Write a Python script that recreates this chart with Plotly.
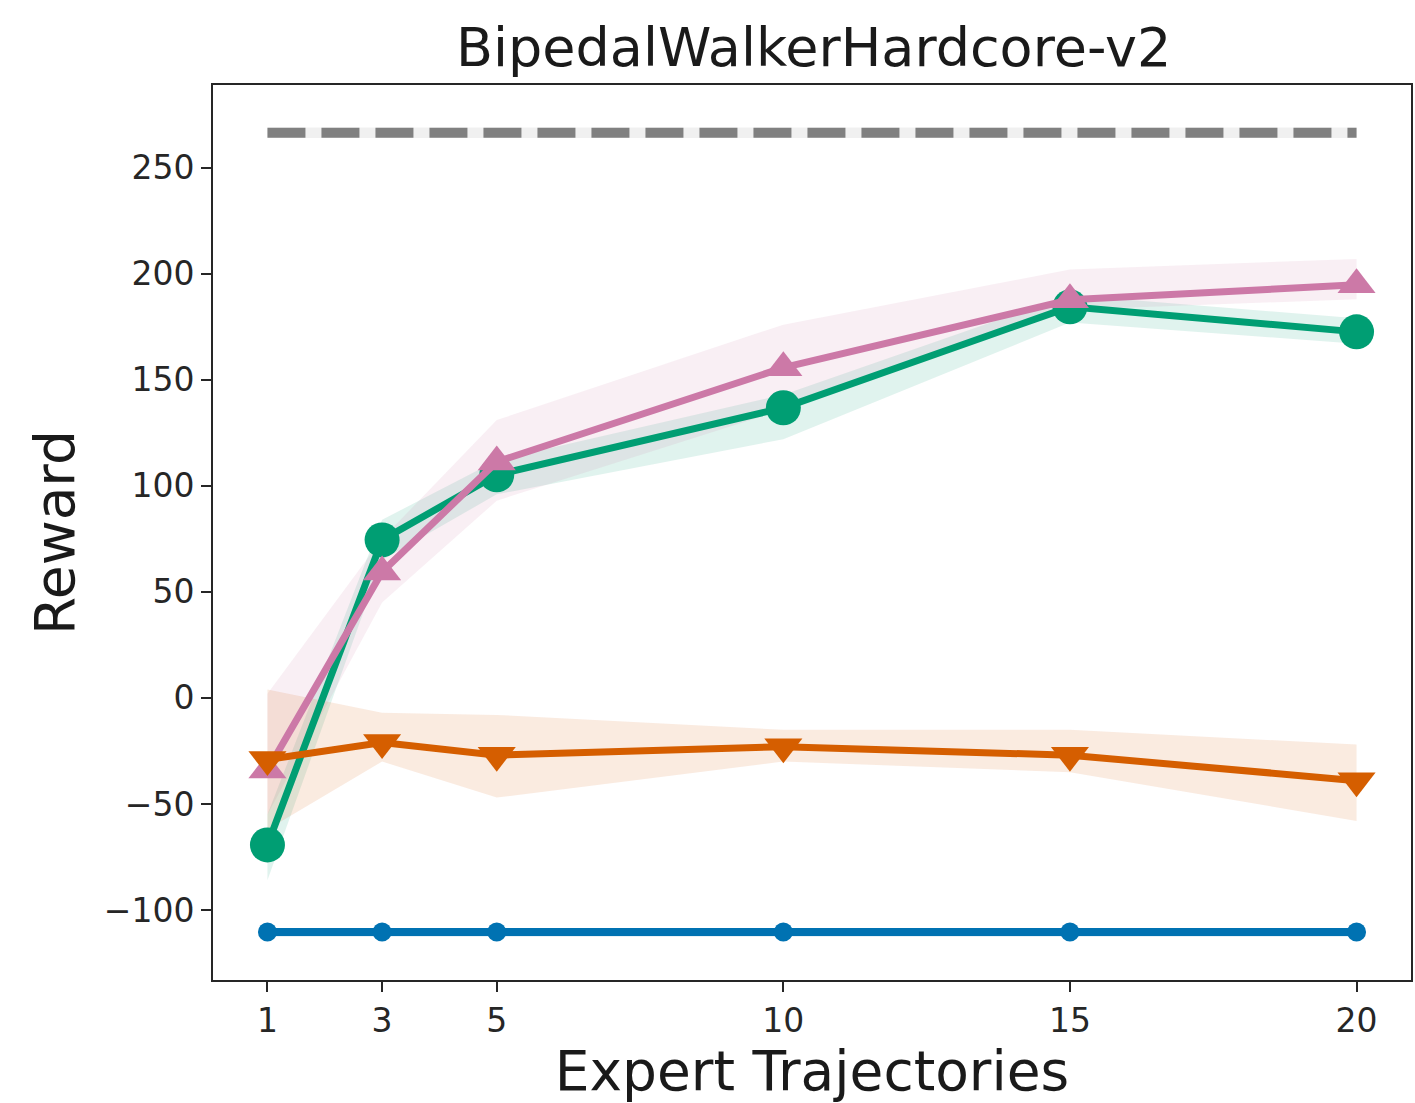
import plotly.graph_objects as go

# Number of expert trajectories used for training
trajectories = [1, 3, 5, 10, 15, 20]

# Expert performance (dashed reference)
expert_mean = [266.5] * 6
expert_lo = [264.0] * 6
expert_hi = [269.0] * 6

# Random / baseline policy
random_mean = [-110.4] * 6
random_lo = [-112.5] * 6
random_hi = [-108.5] * 6

# Method A (green circles)
green_mean = [-69.3, 74.5, 105.2, 136.8, 184.4, 172.6]
green_lo = [-86.0, 65.0, 96.0, 122.0, 177.0, 167.0]
green_hi = [-55.0, 84.0, 112.0, 143.0, 190.0, 179.0]

# Method B (pink triangles up)
pink_mean = [-34.0, 59.4, 111.3, 155.7, 187.7, 194.8]
pink_lo = [-55.0, 45.0, 93.0, 136.0, 183.0, 188.0]
pink_hi = [2.0, 75.0, 131.0, 176.0, 202.0, 207.0]

# Method C (orange triangles down)
orange_mean = [-29.0, -21.0, -27.0, -23.0, -27.0, -39.0]
orange_lo = [-62.0, -30.0, -47.0, -30.0, -35.0, -58.0]
orange_hi = [4.0, -7.0, -8.0, -15.0, -15.0, -22.0]

y_ticks = [-100, -50, 0, 50, 100, 150, 200, 250]
y_tick_text = ["\u2212100", "\u221250", "0", "50", "100", "150", "200", "250"]
x_ticks = [1, 3, 5, 10, 15, 20]

FONT = "DejaVu Sans"

fig = go.Figure()


def band(x, lo, hi, color):
    fig.add_trace(go.Scatter(
        x=list(x) + list(x)[::-1],
        y=list(hi) + list(lo)[::-1],
        fill="toself", fillcolor=color, mode="lines",
        line=dict(width=0), hoverinfo="skip", showlegend=False,
    ))


# Shaded spread around each curve
band(trajectories, expert_lo, expert_hi, "rgba(128,128,128,0.12)")
band(trajectories, random_lo, random_hi, "rgba(0,114,178,0.2)")
band(trajectories, green_lo, green_hi, "rgba(0,158,115,0.12)")
band(trajectories, pink_lo, pink_hi, "rgba(204,121,167,0.12)")
band(trajectories, orange_lo, orange_hi, "rgba(213,94,0,0.12)")

# Expert dashed line
fig.add_trace(go.Scatter(
    x=trajectories, y=expert_mean, mode="lines",
    line=dict(color="#808080", width=10, dash="38px,16px"),
    showlegend=False,
))

# Baseline
fig.add_trace(go.Scatter(
    x=trajectories, y=random_mean, mode="lines+markers",
    line=dict(color="#0072B2", width=8),
    marker=dict(symbol="circle", size=19, color="#0072B2"),
    showlegend=False,
))

fig.add_trace(go.Scatter(
    x=trajectories, y=green_mean, mode="lines+markers",
    line=dict(color="#009E73", width=7),
    marker=dict(symbol="circle", size=35, color="#009E73"),
    showlegend=False,
))

fig.add_trace(go.Scatter(
    x=trajectories, y=pink_mean, mode="lines+markers",
    line=dict(color="#CC79A7", width=7),
    marker=dict(symbol="triangle-up", size=33, color="#CC79A7"),
    showlegend=False,
))

fig.add_trace(go.Scatter(
    x=trajectories, y=orange_mean, mode="lines+markers",
    line=dict(color="#D55E00", width=7),
    marker=dict(symbol="triangle-down", size=33, color="#D55E00"),
    showlegend=False,
))

fig.update_layout(
    width=1415, height=1103,
    margin=dict(l=213, r=2, t=85, b=123),
    paper_bgcolor="white", plot_bgcolor="white",
    font=dict(family=FONT, color="#262626"),
    title=dict(
        text="BipedalWalkerHardcore-v2",
        x=0.575, xanchor="center", y=0.957, yanchor="middle",
        font=dict(family=FONT, size=54, color="#1a1a1a"),
    ),
)

fig.update_xaxes(
    range=[0.05, 20.95],
    tickmode="array", tickvals=x_ticks, ticktext=[str(v) for v in x_ticks],
    ticks="outside", ticklen=10, tickwidth=2, tickcolor="#262626",
    tickfont=dict(family=FONT, size=33, color="#262626"),
    showgrid=False, zeroline=False,
    showline=True, linecolor="#262626", linewidth=2, mirror=True,
    title=dict(text="Expert Trajectories", font=dict(family=FONT, size=55, color="#1a1a1a"),
               standoff=4),
)

fig.update_yaxes(
    range=[-133, 289],
    tickmode="array", tickvals=y_ticks, ticktext=y_tick_text,
    ticks="outside", ticklen=10, tickwidth=2, tickcolor="#262626",
    tickfont=dict(family=FONT, size=33, color="#262626"),
    showgrid=False, zeroline=False,
    showline=True, linecolor="#262626", linewidth=2, mirror=True,
    title=dict(text="Reward", font=dict(family=FONT, size=55, color="#1a1a1a"),
               standoff=12),
)

fig.write_html("out.html")
